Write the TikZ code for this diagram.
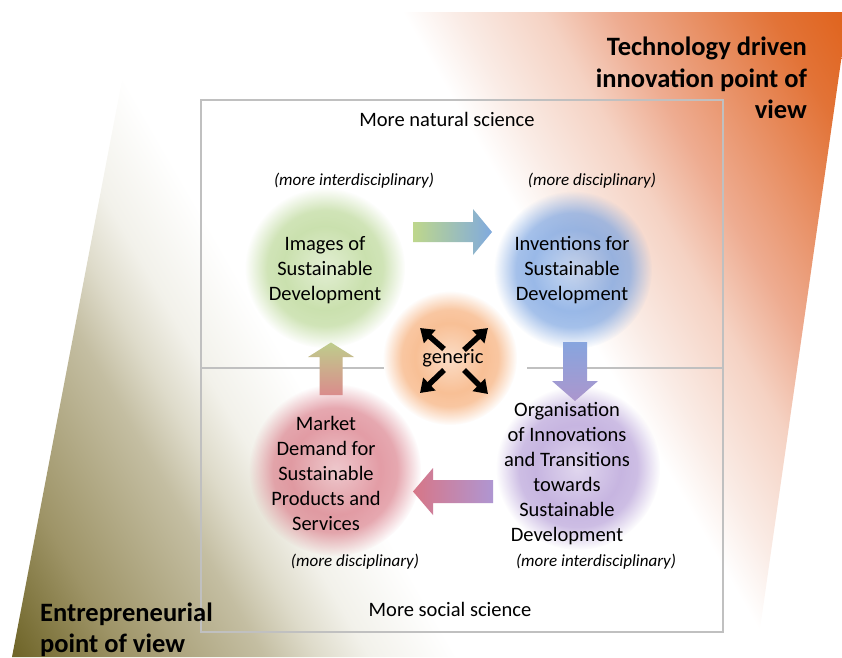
\documentclass[tikz,border=0pt]{standalone}
\usepackage{fontspec}
\setmainfont{Carlito}
\usetikzlibrary{arrows.meta,fadings}

\definecolor{olv0}{RGB}{112,102,42}
\definecolor{olv1}{RGB}{158,148,103}
\definecolor{olv2}{RGB}{196,190,162}
\definecolor{olv3}{RGB}{222,219,202}
\definecolor{olv4}{RGB}{242,241,234}
\definecolor{org4}{RGB}{250,236,230}
\definecolor{org3}{RGB}{245,210,195}
\definecolor{org2}{RGB}{238,172,145}
\definecolor{org1}{RGB}{226,115,55}
\definecolor{org0}{RGB}{224,100,30}
\definecolor{frame}{RGB}{192,192,192}
\definecolor{bgreen}{RGB}{180,212,140}
\definecolor{bblue}{RGB}{110,155,222}
\definecolor{borange}{RGB}{246,165,105}
\definecolor{bpurple}{RGB}{175,150,212}
\definecolor{bred}{RGB}{215,115,128}
\definecolor{agreen}{RGB}{190,215,140}
\definecolor{ablue}{RGB}{128,170,222}
\definecolor{ablue2}{RGB}{135,165,222}
\definecolor{apurple}{RGB}{172,150,205}
\definecolor{apurple2}{RGB}{175,150,210}
\definecolor{ared}{RGB}{215,118,135}
\definecolor{ared2}{RGB}{218,140,140}
\definecolor{agreen2}{RGB}{190,205,140}

\pgfdeclarehorizontalshading{bgshade}{100bp}{color(0bp)=(olv0); color(16bp)=(olv0); color(22bp)=(olv1); color(30bp)=(olv2); color(33bp)=(olv3); color(36bp)=(olv4); color(41bp)=(white); color(59bp)=(white); color(62bp)=(org4); color(67bp)=(org3); color(71bp)=(org2); color(80bp)=(org1); color(84bp)=(org0); color(100bp)=(org0)}

\pgfdeclareradialshading{blobmask}{\pgfpointorigin}{color(0bp)=(pgftransparent!62); color(13bp)=(pgftransparent!30); color(18bp)=(pgftransparent!38); color(25bp)=(pgftransparent!100); color(50bp)=(pgftransparent!100)}
\pgfdeclarefading{blobfade}{\pgfuseshading{blobmask}}

\tikzset{
  lbl/.style={align=center, inner sep=0pt, font=\fontsize{20.5}{25}\selectfont},
  side/.style={inner sep=0pt, font=\fontsize{20.5}{25}\selectfont},
  note/.style={inner sep=0pt, font=\fontsize{17}{20}\selectfont\itshape},
  title/.style={inner sep=0pt, font=\fontsize{26.5}{31.5}\selectfont\bfseries},
  framel/.style={draw=frame, line width=1.8pt},
  blob/.style={path fading=blobfade},
  genarrow/.style={line width=5.5pt, -{Triangle[width=17pt,length=13pt]}},
}

\begin{document}
\begin{tikzpicture}[x=1pt,y=-1pt]
\useasboundingbox (0,0) rectangle (842,657);

% background parallelogram
\shade[shading=bgshade, shading angle=30] (135,12) -- (848,12) -- (756,657) -- (12,657) -- cycle;

% frame
\coordinate (fnw) at (201,100);
\coordinate (fse) at (723,632);
\draw[framel] (fnw) rectangle (fse);
\coordinate (ml1) at (201,368);
\coordinate (ml2) at (384,368);
\coordinate (mr1) at (527,368);
\coordinate (mr2) at (723,368);
\draw[framel] (ml1) -- (ml2);
\draw[framel] (mr1) -- (mr2);

% blobs
\coordinate (img) at (325,268);
\coordinate (inv) at (573,270);
\coordinate (gen) at (450,358);
\coordinate (org) at (578,468);
\coordinate (mkt) at (335,470);
\fill[bgreen, blob] (img) circle (80);
\fill[bblue, blob] (inv) circle (79);
\fill[borange, blob] (gen) circle (67);
\fill[bpurple, blob] (org) circle (82);
\fill[bred, blob] (mkt) circle (86);

% block arrows
\shade[left color=agreen, right color=ablue] (413,222) -- (473,222) -- (473,209) -- (492,232) -- (473,255) -- (473,242) -- (413,242) -- cycle;
\shade[top color=ablue2, bottom color=apurple] (563,342) -- (587,342) -- (587,381) -- (598,381) -- (575,401) -- (552,381) -- (563,381) -- cycle;
\shade[left color=ared, right color=apurple2] (493,480) -- (433,480) -- (433,468) -- (413,491.5) -- (433,515) -- (433,503) -- (493,503) -- cycle;
\shade[top color=agreen2, bottom color=ared2] (319.5,395) -- (319.5,357) -- (308,357) -- (331,342.5) -- (354,357) -- (342.5,357) -- (342.5,395) -- cycle;

% generic arrows
\coordinate (t1) at (444,349); \coordinate (h1) at (420,328);
\coordinate (t2) at (464,350); \coordinate (h2) at (488,328);
\coordinate (t3) at (444,370); \coordinate (h3) at (420,393);
\coordinate (t4) at (464,370); \coordinate (h4) at (488,394);
\draw[genarrow] (t1) -- (h1);
\draw[genarrow] (t2) -- (h2);
\draw[genarrow] (t3) -- (h3);
\draw[genarrow] (t4) -- (h4);
\node[side] (gtxt) at (453,358) {generic};

% texts
\node[lbl] (timg) at (325,270) {Images of\\Sustainable\\Development};
\node[lbl] (tinv) at (572,270) {Inventions for\\Sustainable\\Development};
\node[lbl] (torg) at (567,474) {Organisation\\of Innovations\\and Transitions\\towards\\Sustainable\\Development};
\node[lbl] (tmkt) at (326,473) {Market\\Demand for\\Sustainable\\Products and\\Services};

\node[side] (nat) at (447,119) {More natural science};
\node[side] (soc) at (450,609) {More social science};
\node[note] (n1) at (354,181) {(more interdisciplinary)};
\node[note] (n2) at (592,181) {(more disciplinary)};
\node[note] (n3) at (355,562) {(more disciplinary)};
\node[note] (n4) at (596,562) {(more interdisciplinary)};

\node[title, align=right, anchor=east] (tech) at (807,78) {Technology driven\\innovation point of\\view};
\node[title, align=left, anchor=west] (entr) at (40,630) {Entrepreneurial\\point of view};
\end{tikzpicture}
\end{document}
